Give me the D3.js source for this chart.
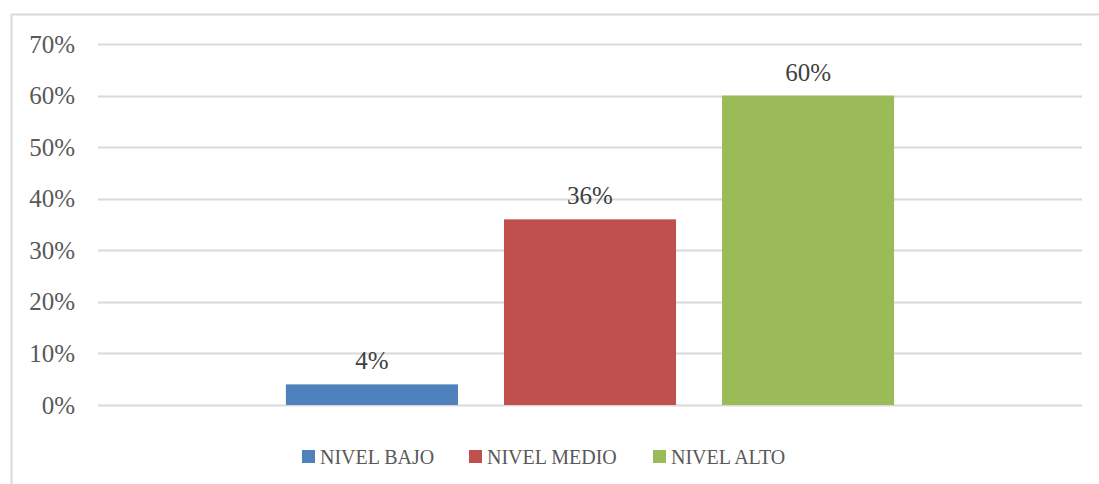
<!DOCTYPE html>
<html><head><meta charset="utf-8">
<script src="https://cdn.jsdelivr.net/npm/d3@7"></script>
<style>body{margin:0;background:#fff}svg{display:block}</style>
</head><body>
<script>
const categories = [""];
const seriesNames = ["NIVEL BAJO", "NIVEL MEDIO", "NIVEL ALTO"];
const seriesValues = [0.04, 0.36, 0.60];
const tickValues = [0, 0.1, 0.2, 0.3, 0.4, 0.5, 0.6, 0.7];
const colors = ["#4F81BD", "#C0504D", "#9BBB59"];

const W = 1099, H = 484;
const svg = d3.select("body").append("svg").attr("width", W).attr("height", H);
svg.append("rect").attr("x", 11.5).attr("y", 14.5).attr("width", 1100).attr("height", 480)
  .attr("fill", "#fff").attr("stroke", "#D9D9D9").attr("stroke-width", 2);

const left = 98, right = 1082;
const y = d3.scaleLinear().domain([0, 0.7]).range([405, 44]);
const x0 = d3.scaleBand().domain(categories).range([left, right]).paddingInner(0).paddingOuter(0.309);
const x1 = d3.scaleBand().domain(seriesNames).range([0, x0.bandwidth()]).paddingInner(0.211).paddingOuter(0);

const font = "'Liberation Serif', 'DejaVu Serif', serif";

// gridlines
svg.append("g").selectAll("line").data(tickValues).join("line")
  .attr("x1", left).attr("x2", right)
  .attr("y1", d => Math.round(y(d)) + 0.5).attr("y2", d => Math.round(y(d)) + 0.5)
  .attr("stroke", "#D9D9D9").attr("stroke-width", 2);

// y axis labels
const yAxis = d3.axisLeft(y).tickValues(tickValues).tickFormat(d3.format(".0%")).tickSize(0).tickPadding(0);
const ga = svg.append("g").attr("transform", "translate(75,0)").call(yAxis);
ga.select(".domain").remove();
ga.selectAll("text").attr("font-family", font).attr("font-size", 25).attr("fill", "#595959").attr("dy", "0.32em");

// bars
const g = svg.append("g").attr("transform", `translate(${x0(categories[0])},0)`);
g.selectAll("rect").data(seriesNames).join("rect")
  .attr("x", d => x1(d)).attr("width", x1.bandwidth())
  .attr("y", (d, i) => y(seriesValues[i])).attr("height", (d, i) => y(0) - y(seriesValues[i]))
  .attr("fill", (d, i) => colors[i]);

g.selectAll("text").data(seriesNames).join("text")
  .attr("x", d => x1(d) + x1.bandwidth() / 2)
  .attr("y", (d, i) => y(seriesValues[i]) - 15)
  .attr("text-anchor", "middle").attr("font-family", font).attr("font-size", 25).attr("fill", "#404040")
  .text((d, i) => d3.format(".0%")(seriesValues[i]));

// legend
const legX = [302, 469, 653];
const lg = svg.append("g");
seriesNames.forEach((s, i) => {
  lg.append("rect").attr("x", legX[i]).attr("y", 450).attr("width", 13).attr("height", 13).attr("fill", colors[i]);
  lg.append("text").attr("x", legX[i] + 18).attr("y", 464).attr("font-family", font).attr("font-size", 20)
    .attr("fill", "#595959").text(s);
});
</script>
</body></html>
